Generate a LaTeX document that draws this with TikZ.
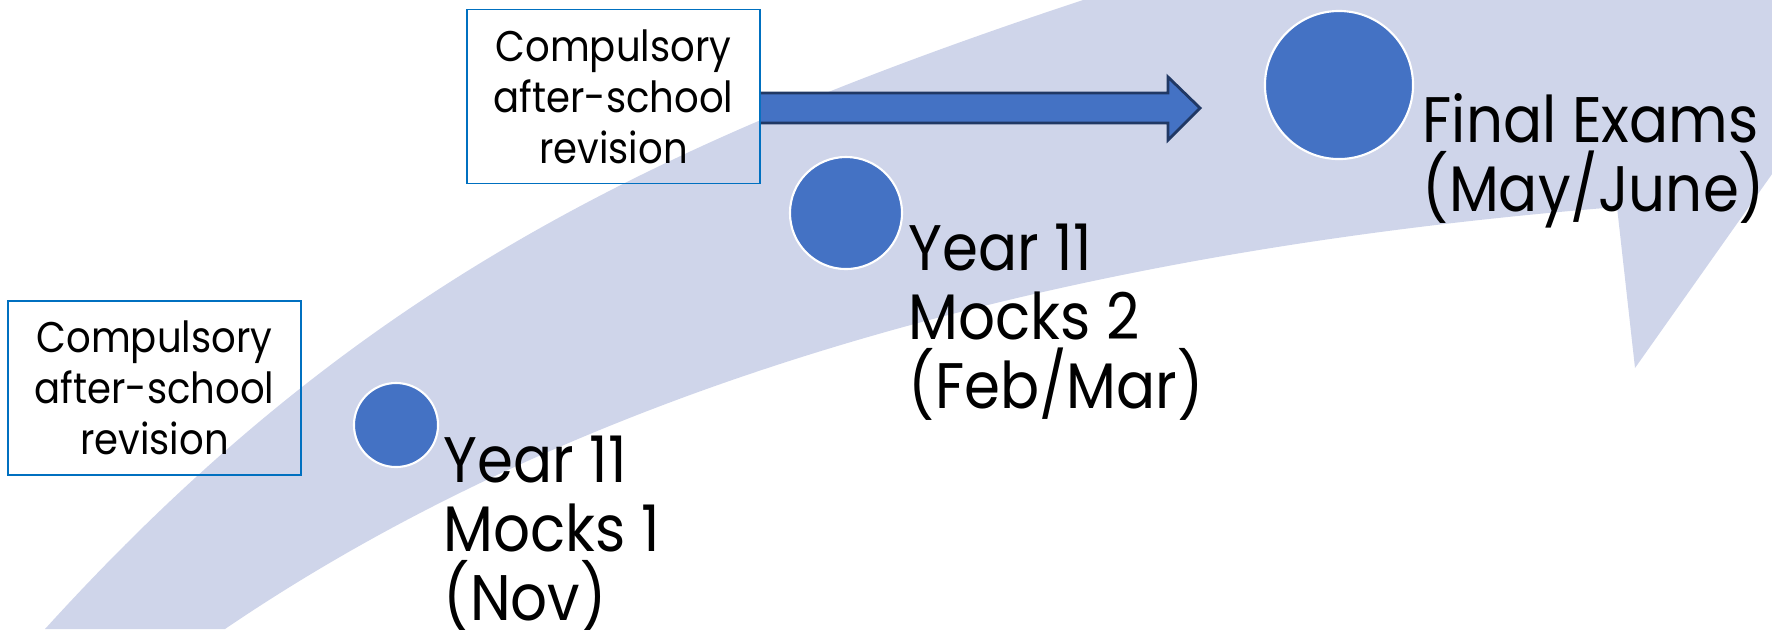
\documentclass[tikz,border=0pt]{standalone}
\usepackage{fontspec}
\setmainfont{Poppins}[FakeStretch=0.9]
\usetikzlibrary{positioning}
\definecolor{bandcol}{HTML}{CFD5EA}
\definecolor{dotcol}{HTML}{4472C4}
\definecolor{boxline}{HTML}{0070C0}
\definecolor{arrline}{HTML}{203864}

\begin{document}
\begin{tikzpicture}[x=0.01cm, y=-0.01cm,
  revbox/.style={draw=boxline, line width=0.5pt, minimum width=2.93cm, minimum height=1.74cm, inner sep=0pt, align=center, font=\fontsize{12.2}{14.5}\selectfont},
  dot/.style={circle, fill=dotcol, draw=white, line width=0.6pt, inner sep=0pt},
  stage/.style={anchor=north west, inner sep=0pt, align=left, font=\fontsize{18.3}{19.6}\selectfont}]
  \useasboundingbox (0,0) rectangle (1772,629);
  \begin{scope}
    \clip (0,0) rectangle (1772,629);
    \fill[bandcol] (45,629) .. controls (345,299) and (633,149) .. (1083,0) -- (1300,-72)
      -- (1830,-80) -- (1830,92) -- (1635,368) -- (1617,207)
      .. controls (1117,247) and (615,364) .. (225,629) -- cycle;
  \end{scope}

  \node[revbox] (rev1) at (154.5,388) {Compulsory\\after-school\\revision};
  \node[revbox] (rev2) at (613.5,96.5) {Compulsory\\after-school\\revision};

  \coordinate (tip) at (1200,108);
  \filldraw[fill=dotcol, draw=arrline, line width=0.8pt] (rev2.east |- 0,93) -- (1168,93) -- (1168,77) -- (tip)
    -- (1168,140) -- (1168,123) -- (rev2.east |- 0,123);

  \node[dot, minimum size=0.84cm] (mock1) at (396,425) {};
  \node[dot, minimum size=1.12cm] (mock2) at (846,213) {};
  \node[dot, minimum size=1.48cm] (final) at (1339,85) {};

  \node[stage] (lab1) at (443,435) {Year 11\\Mocks 1\\(Nov)};
  \node[stage] (lab2) at (908,223) {Year 11\\Mocks 2\\(Feb/Mar)};
  \node[stage] (lab3) at (1422,93) {Final Exams\\(May/June)};
\end{tikzpicture}
\end{document}
